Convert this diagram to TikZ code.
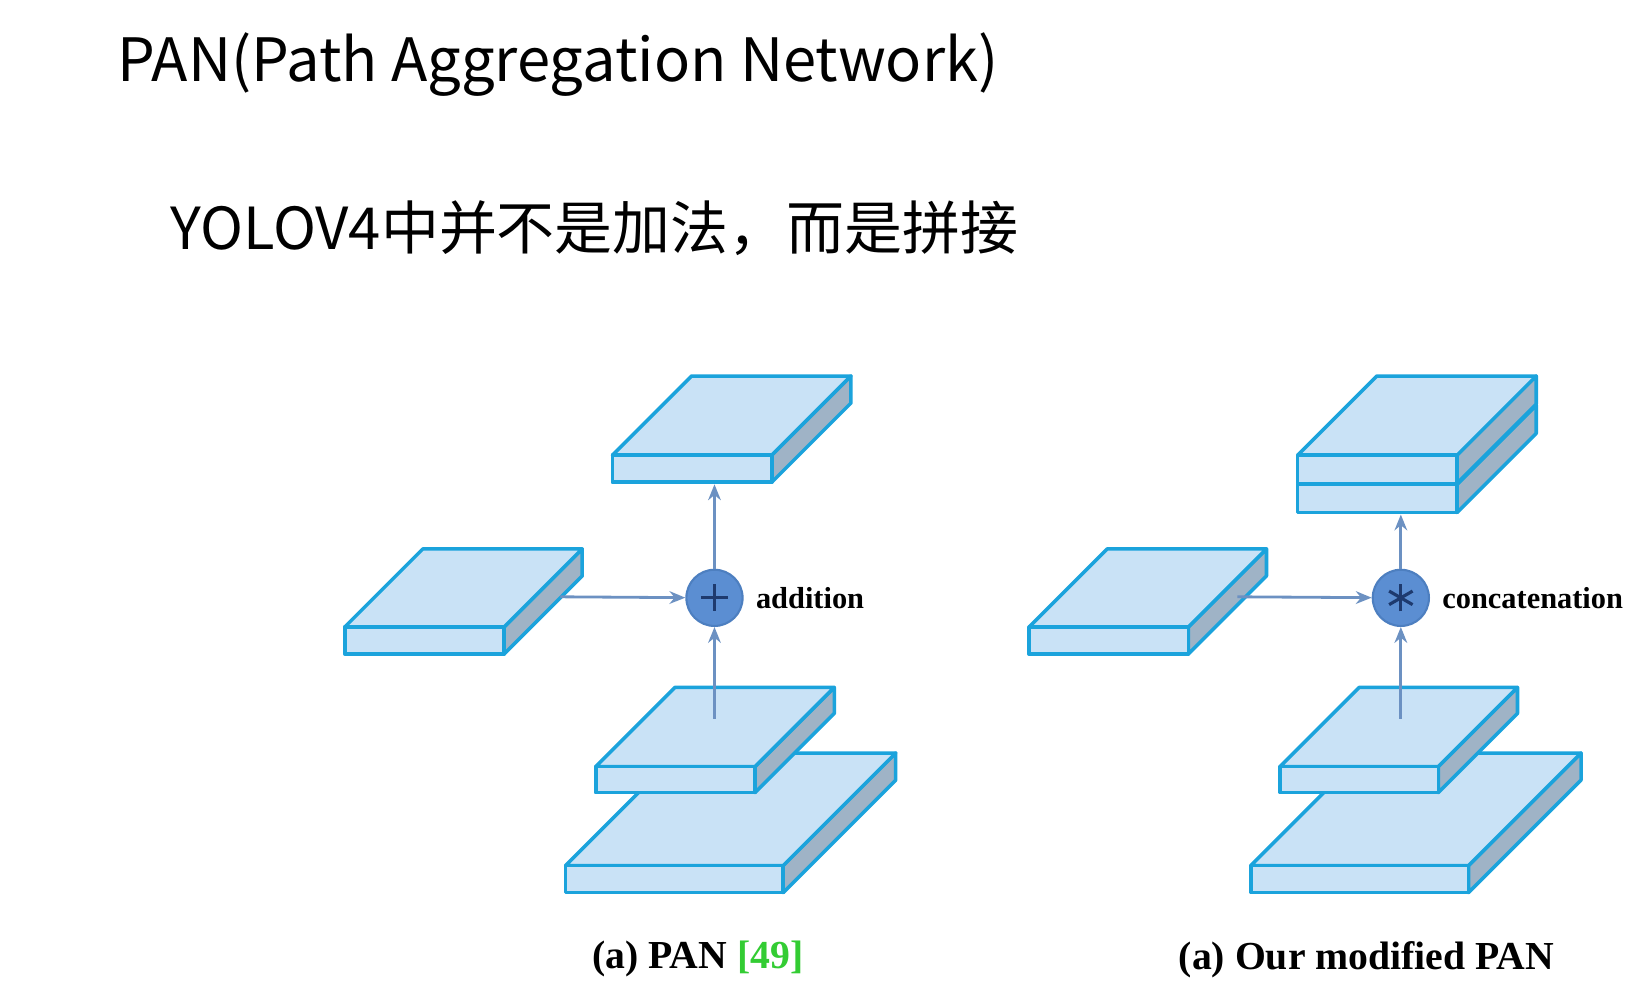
\documentclass[tikz,border=0pt]{standalone}
\usepackage{fontspec}
\setmainfont{Liberation Serif}
\newfontfamily\cjkfont{Noto Sans CJK SC}
\usetikzlibrary{arrows.meta}

\definecolor{slabfill}{HTML}{C9E2F6}
\definecolor{slabedge}{HTML}{1BA3DC}
\definecolor{slabside}{HTML}{9FB3C6}
\definecolor{flowblue}{HTML}{6C91C2}
\definecolor{mergefill}{HTML}{5B8ED2}
\definecolor{mergeline}{HTML}{4D7FC0}
\definecolor{signblue}{HTML}{1E3A6E}
\definecolor{citegreen}{HTML}{33CC33}

% feature map: x, y of front top-left corner, width, thickness, depth
\newcommand{\slab}[5]{%
  \filldraw[slabline, fill=slabside] ({#1+#3},{#2}) -- ++(#5,-#5) -- ++(0,#4) -- ({#1+#3},{#2+#4}) -- cycle;
  \filldraw[slabline] (#1,#2) -- ++(#5,-#5) -- ++(#3,0) -- ({#1+#3},{#2}) -- cycle;
  \filldraw[slabline] (#1,#2) rectangle ++(#3,#4);
}

\begin{document}
\begin{tikzpicture}[x=0.010415cm, y=-0.010415cm,
  slabline/.style={draw=slabedge, fill=slabfill, line width=1pt, line join=round},
  flow/.style={draw=flowblue, line width=0.8pt, -{Stealth[length=4.5pt,width=3.6pt]}},
  merge/.style={circle, fill=mergefill, draw=mergeline, line width=0.6pt, minimum size=0.5624cm, inner sep=0pt},
  sign/.style={draw=signblue, line width=0.9pt},
  oplabel/.style={font=\fontsize{8.65}{10}\selectfont\bfseries},
  caption/.style={font=\fontsize{11.3}{13}\selectfont\bfseries},
  heading/.style={anchor=base west, inner sep=0pt, font=\cjkfont\fontsize{17}{20}\selectfont}]

\fill[white] (0,0) rectangle (1566,961);
\useasboundingbox (0,0) rectangle (1566,961);

\node[heading] (title) at (112,78) {PAN(Path Aggregation Network)};
\node[heading, font=\cjkfont\fontsize{16.5}{20}\selectfont] (note) at (163,240) {YOLOV4中并不是加法，而是拼接};

% left: addition
\slab{588}{437}{153}{26}{76}
\slab{331}{602}{153}{26}{75}
\slab{543}{831}{209}{26}{108}
\slab{572}{736}{153}{25}{76}

\node[merge] (add) at (686,574) {};
\draw[sign] (add.center) ++(-13,0) -- ++(26,0);
\draw[sign] (add.center) ++(0,-13) -- ++(0,26);
\node[oplabel, right] (addtext) at (add.east) {addition};

\coordinate (latL) at (538,573);
\coordinate (outL) at (686,465);
\coordinate (inL) at (686,690);
\draw[flow] (latL) -- (add);
\draw[flow] (add) -- (outL);
\draw[flow] (inL) -- (add);

\node[caption] (capL) at (670,921) {(a) PAN \textcolor{citegreen}{[49]}};

% right: concatenation
\slab{1246}{465}{153}{27}{76}
\slab{1246}{437}{153}{27}{76}
\slab{988}{602}{153}{26}{75}
\slab{1201}{831}{209}{26}{108}
\slab{1229}{736}{152}{25}{76}

\node[merge] (cat) at (1345,574) {};
\foreach \a in {90,210,330}
  \draw[sign] (cat.center) ++(\a:13) -- ++(\a+180:26);
\node[oplabel, right] (cattext) at (cat.east) {concatenation};

\coordinate (latR) at (1188,573);
\coordinate (outR) at (1345,494);
\coordinate (inR) at (1345,690);
\draw[flow] (latR) -- (cat);
\draw[flow] (cat) -- (outR);
\draw[flow] (inR) -- (cat);

\node[caption] (capR) at (1312,921) {(a) Our modified PAN};
\end{tikzpicture}
\end{document}
